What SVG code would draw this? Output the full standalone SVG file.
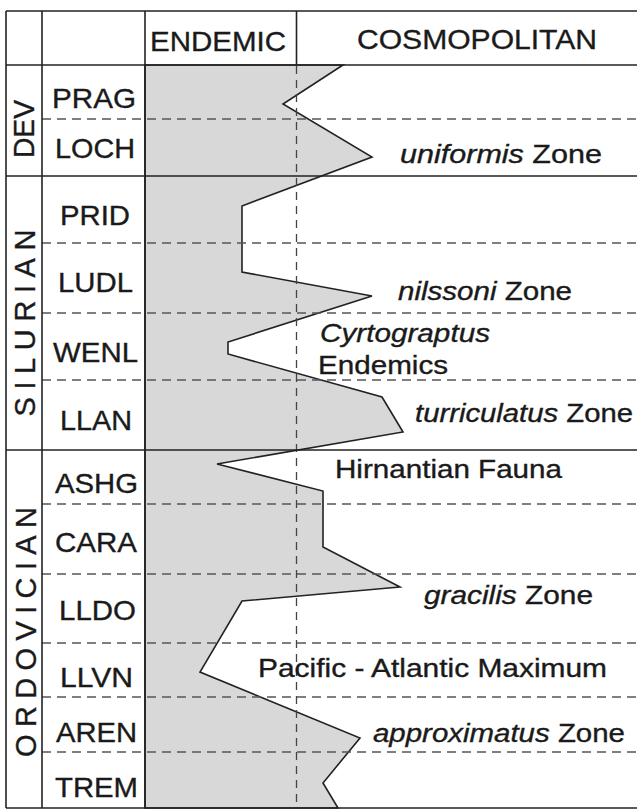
<svg xmlns="http://www.w3.org/2000/svg" width="637" height="812" viewBox="0 0 637 812">
<style>
.solid{stroke:#222;stroke-width:1.6;fill:none}
.dash{stroke:#555;stroke-width:1.3;stroke-dasharray:9 6;fill:none}
.vdash{stroke:#444;stroke-width:1.3;stroke-dasharray:8 6;fill:none}
.shade{fill:#d8d8d8;stroke:#222;stroke-width:1.6;stroke-linejoin:miter}
text{font-family:"Liberation Sans",Arial,Helvetica,sans-serif;fill:#1a1a1a;stroke:#1a1a1a;stroke-width:0.35}
.hdr{font-size:28px;text-anchor:middle}
.stage{font-size:27.5px;text-anchor:middle}
.period{font-size:29px;text-anchor:middle}
.lab{font-size:25px}
.it{font-style:italic}
</style>
<rect width="637" height="812" fill="#ffffff"/>
<g id="curve">
<polygon class="shade" points="145,65 343,65 283,104 372,157 242,206 242,272 372,296 228,342 228,354 382,397 403,432 217,464 323,491 323,547 400,587 242,601 200,672 360,738 323,783 338,808 145,808"/>
</g>
<g id="connectors">
<g id="dividers">
<line class="dash" x1="42" y1="119" x2="637" y2="119"/>
<line class="dash" x1="42" y1="243" x2="637" y2="243"/>
<line class="dash" x1="42" y1="313" x2="637" y2="313"/>
<line class="dash" x1="42" y1="380" x2="637" y2="380"/>
<line class="dash" x1="42" y1="504" x2="637" y2="504"/>
<line class="dash" x1="42" y1="574" x2="637" y2="574"/>
<line class="dash" x1="42" y1="643" x2="637" y2="643"/>
<line class="dash" x1="42" y1="697" x2="637" y2="697"/>
<line class="dash" x1="42" y1="752" x2="637" y2="752"/>
<line class="vdash" x1="296.5" y1="66" x2="296.5" y2="808"/>
</g>
<g id="frame">
<line class="solid" x1="6" y1="11" x2="637" y2="11"/>
<line class="solid" x1="6" y1="65" x2="637" y2="65"/>
<line class="solid" x1="6" y1="176" x2="637" y2="176"/>
<line class="solid" x1="6" y1="450" x2="637" y2="450"/>
<line class="solid" x1="6" y1="808" x2="637" y2="808"/>
<line class="solid" x1="6" y1="11" x2="6" y2="808"/>
<line class="solid" x1="42" y1="11" x2="42" y2="808"/>
<line class="solid" x1="145" y1="11" x2="145" y2="808"/>
<line class="solid" x1="296.5" y1="11" x2="296.5" y2="65"/>
</g>
</g>
<g id="header">
<text class="hdr" x="218" y="51" textLength="136" lengthAdjust="spacingAndGlyphs">ENDEMIC</text>
<text class="hdr" x="477" y="49" textLength="240" lengthAdjust="spacingAndGlyphs">COSMOPOLITAN</text>
</g>
<g id="periods">
<text class="period" transform="translate(34,129) rotate(-90)" textLength="58" lengthAdjust="spacingAndGlyphs">DEV</text>
<text class="period" transform="translate(35,323) rotate(-90)" textLength="187" lengthAdjust="spacing">SILURIAN</text>
<text class="period" transform="translate(36,632) rotate(-90)" textLength="250" lengthAdjust="spacing">ORDOVICIAN</text>
</g>
<g id="stages">
<text class="stage" x="94" y="108" textLength="84" lengthAdjust="spacingAndGlyphs">PRAG</text>
<text class="stage" x="95" y="158" textLength="80" lengthAdjust="spacingAndGlyphs">LOCH</text>
<text class="stage" x="95" y="225" textLength="70" lengthAdjust="spacingAndGlyphs">PRID</text>
<text class="stage" x="95.5" y="292" textLength="75" lengthAdjust="spacingAndGlyphs">LUDL</text>
<text class="stage" x="95.5" y="362" textLength="85" lengthAdjust="spacingAndGlyphs">WENL</text>
<text class="stage" x="96" y="430" textLength="72" lengthAdjust="spacingAndGlyphs">LLAN</text>
<text class="stage" x="96.5" y="493" textLength="83" lengthAdjust="spacingAndGlyphs">ASHG</text>
<text class="stage" x="96" y="552" textLength="82" lengthAdjust="spacingAndGlyphs">CARA</text>
<text class="stage" x="97.5" y="620" textLength="77" lengthAdjust="spacingAndGlyphs">LLDO</text>
<text class="stage" x="96.5" y="687" textLength="73" lengthAdjust="spacingAndGlyphs">LLVN</text>
<text class="stage" x="96.5" y="742" textLength="81" lengthAdjust="spacingAndGlyphs">AREN</text>
<text class="stage" x="96.5" y="797" textLength="83" lengthAdjust="spacingAndGlyphs">TREM</text>
</g>
<g id="labels">
<text class="lab" x="400" y="163" textLength="202" lengthAdjust="spacingAndGlyphs"><tspan class="it">uniformis</tspan> Zone</text>
<text class="lab" x="398" y="300" textLength="174" lengthAdjust="spacingAndGlyphs"><tspan class="it">nilssoni</tspan> Zone</text>
<text class="lab it" x="320" y="342" textLength="170" lengthAdjust="spacingAndGlyphs">Cyrtograptus</text>
<text class="lab" x="318" y="374" textLength="130" lengthAdjust="spacingAndGlyphs">Endemics</text>
<text class="lab" x="415" y="422" textLength="218" lengthAdjust="spacingAndGlyphs"><tspan class="it">turriculatus</tspan> Zone</text>
<text class="lab" x="335" y="478" textLength="227" lengthAdjust="spacingAndGlyphs">Hirnantian Fauna</text>
<text class="lab" x="424" y="604" textLength="169" lengthAdjust="spacingAndGlyphs"><tspan class="it">gracilis</tspan> Zone</text>
<text class="lab" x="258" y="677" textLength="349" lengthAdjust="spacingAndGlyphs">Pacific - Atlantic Maximum</text>
<text class="lab" x="373" y="742" textLength="252" lengthAdjust="spacingAndGlyphs"><tspan class="it">approximatus</tspan> Zone</text>
</g>
</svg>
